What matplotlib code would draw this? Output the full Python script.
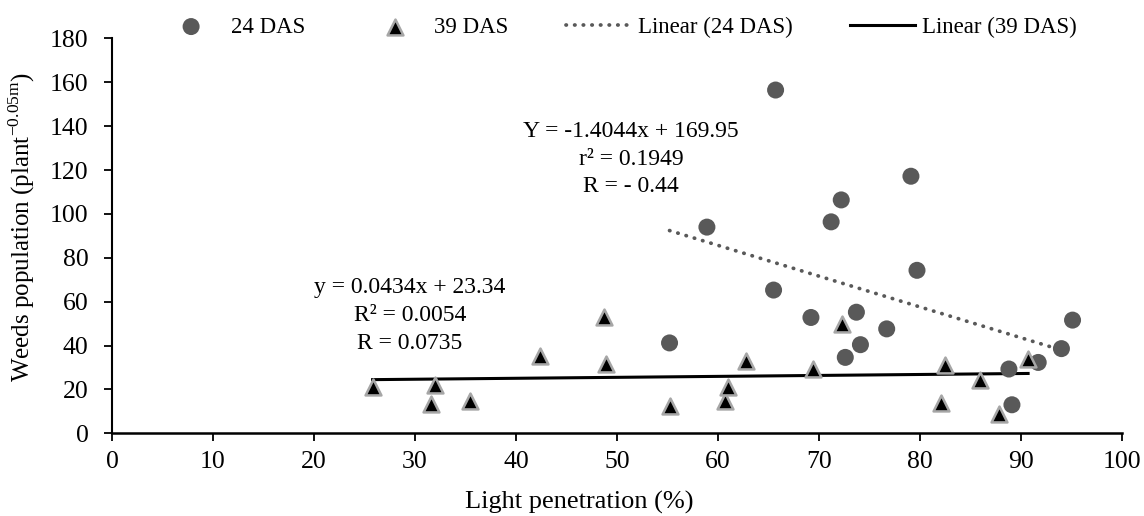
import matplotlib.pyplot as plt
import numpy as np

# 24 DAS (days after sowing)
das24_x = [65.7, 58.9, 55.2, 65.5, 69.2, 71.2, 72.2, 72.6, 73.7, 74.1,
           76.7, 79.1, 79.7, 88.8, 89.1, 91.7, 94.0, 95.1]
das24_y = [156.5, 94.0, 41.2, 65.3, 52.8, 96.4, 106.4, 34.6, 55.2, 40.4,
           47.6, 117.2, 74.3, 29.3, 13.0, 32.3, 38.6, 51.6]

# 39 DAS
das39_x = [25.8, 31.6, 32.0, 35.4, 42.4, 48.7, 48.9, 55.2, 60.7, 61.0,
           62.8, 69.4, 72.3, 82.1, 82.5, 85.9, 87.8, 90.7]
das39_y = [20.9, 13.4, 22.1, 14.8, 35.1, 53.0, 31.7, 12.5, 14.5, 20.9,
           33.1, 29.3, 49.9, 13.7, 31.0, 24.1, 8.8, 33.9]

# trendline coefficients as printed on the chart
fit24 = (-1.4044, 169.95)
fit39 = (0.0434, 23.34)

eq24 = ["Y = -1.4044x + 169.95", "r² = 0.1949", "R = - 0.44"]
eq39 = ["y = 0.0434x + 23.34", "R² = 0.0054", "R = 0.0735"]

plt.rcParams['font.family'] = ['Liberation Serif', 'DejaVu Serif']
plt.rcParams['mathtext.fontset'] = 'custom'
plt.rcParams['mathtext.rm'] = 'Liberation Serif'

fig = plt.figure(figsize=(11.44, 5.16), dpi=100)
ax = fig.add_axes([0.0979, 0.1603, 0.8829, 0.7651])

ax.scatter(das24_x, das24_y, s=150, color='#595959', edgecolors='none',
           zorder=3, label='24 DAS')
ax.scatter(das39_x, das39_y, s=130, marker='^', color='black',
           edgecolors='#a6a6a6', linewidths=1.8, zorder=4, label='39 DAS')

xs24 = np.array([min(das24_x), max(das24_x)])
ax.plot(xs24, fit24[0] * xs24 + fit24[1], color='#595959', lw=2.7,
        linestyle=(0, (0.1, 2.2)), dash_capstyle='round', zorder=2,
        label='Linear (24 DAS)')
xs39 = np.array([min(das39_x), max(das39_x)])
ax.plot(xs39, fit39[0] * xs39 + fit39[1], color='black', lw=2.2,
        zorder=2, label='Linear (39 DAS)')

ax.text(51.4, 125.0, "\n".join(eq24), ha='center', va='center',
        fontsize=17, linespacing=1.42)
ax.text(29.5, 53.8, "\n".join(eq39), ha='center', va='center',
        fontsize=17, linespacing=1.42)

ax.set_xlim(0, 100)
ax.set_ylim(0, 180)
ax.set_xticks(np.arange(0, 101, 10))
ax.set_yticks(np.arange(0, 181, 20))
ax.tick_params(labelsize=18.5, length=6, width=1.3, direction='out')
ax.tick_params(axis='y', pad=11)
ax.tick_params(axis='x', pad=7)
ax.spines['top'].set_visible(False)
ax.spines['right'].set_visible(False)
ax.spines['left'].set_linewidth(1.5)
ax.spines['bottom'].set_linewidth(1.8)

ax.set_xlabel("Light penetration (%)", fontsize=19)
ax.xaxis.set_label_coords(0.463, -0.145)
ax.set_ylabel(r"Weeds population (plant$^{\mathrm{-0.05m}}$)", fontsize=18)
ax.yaxis.set_label_coords(-0.074, 0.523)

fig.legend(loc='center', bbox_to_anchor=(0.540, 1 - 27 / 516), ncol=4,
           frameon=False, fontsize=16.5, columnspacing=2.5,
           handletextpad=0.3, handlelength=2.85)

fig.savefig("out.png", dpi=100)
